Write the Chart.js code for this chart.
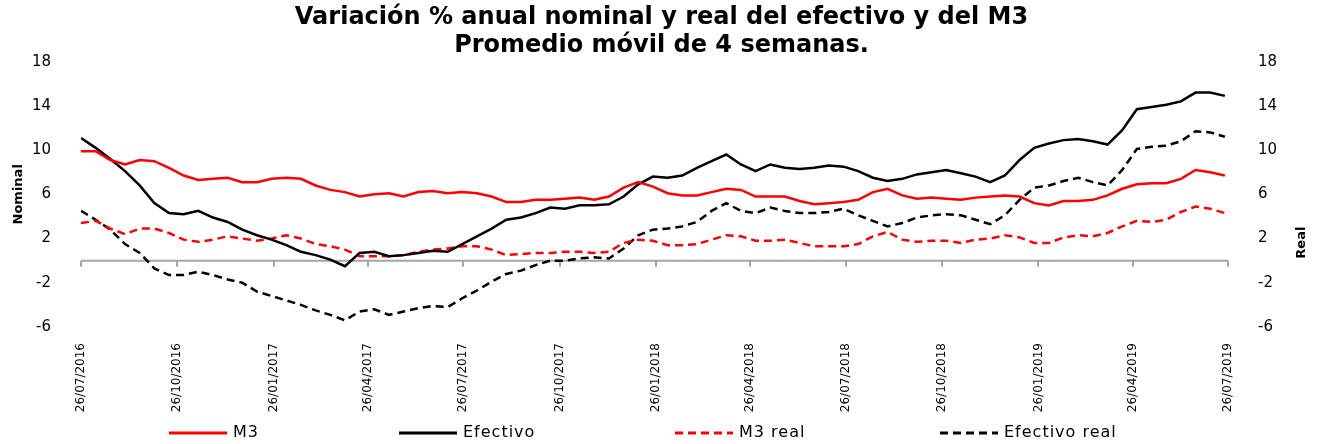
<!DOCTYPE html>
<html>
<head>
<meta charset="utf-8">
<script src="https://cdn.jsdelivr.net/npm/chart.js@4.4.0/dist/chart.umd.min.js"></script>
<style>
  html, body { margin: 0; padding: 0; background: #fff; }
  #wrap { width: 1323px; height: 444px; }
</style>
</head>
<body>
<div id="wrap"><canvas id="chart"></canvas></div>
<script>
"use strict";

// días desde el 26/07/2016 (una lectura cada dos semanas)
const days = [0, 14, 28, 42, 56, 70, 84, 98, 112, 126, 140, 154, 168, 182,
  196, 210, 224, 238, 252, 266, 280, 294, 308, 322, 336, 350, 364,
  378, 392, 406, 420, 434, 448, 462, 476, 490, 504, 518, 532, 546,
  560, 574, 588, 602, 616, 630, 644, 658, 672, 686, 700, 714, 728, 742,
  756, 770, 784, 798, 812, 826, 840, 854, 868, 882, 896, 910, 924,
  938, 952, 966, 980, 994, 1008, 1022, 1036, 1050, 1064, 1078, 1092];

const m3 = [9.9, 9.9, 9.1, 8.7, 9.1, 9.0, 8.4, 7.7, 7.3, 7.4, 7.5, 7.1, 7.1, 7.4,
  7.5, 7.4, 6.8, 6.4, 6.2, 5.8, 6.0, 6.1, 5.8, 6.2, 6.3, 6.1, 6.2,
  6.1, 5.8, 5.3, 5.3, 5.5, 5.5, 5.6, 5.7, 5.5, 5.8, 6.6, 7.1, 6.7,
  6.1, 5.9, 5.9, 6.2, 6.5, 6.4, 5.8, 5.8, 5.8, 5.4, 5.1, 5.2, 5.3, 5.5,
  6.2, 6.5, 5.9, 5.6, 5.7, 5.6, 5.5, 5.7, 5.8, 5.9, 5.8, 5.2, 5.0,
  5.4, 5.4, 5.5, 5.9, 6.5, 6.9, 7.0, 7.0, 7.4, 8.2, 8.0, 7.7];

const efectivo = [11.1, 10.2, 9.2, 8.1, 6.8, 5.2, 4.3, 4.2, 4.5, 3.9, 3.5, 2.8, 2.3, 1.9,
  1.4, 0.8, 0.5, 0.1, -0.5, 0.7, 0.8, 0.4, 0.5, 0.7, 0.9, 0.8, 1.5,
  2.2, 2.9, 3.7, 3.9, 4.3, 4.8, 4.7, 5.0, 5.0, 5.1, 5.8, 6.9, 7.6,
  7.5, 7.7, 8.4, 9.0, 9.6, 8.7, 8.1, 8.7, 8.4, 8.3, 8.4, 8.6, 8.5, 8.1,
  7.5, 7.2, 7.4, 7.8, 8.0, 8.2, 7.9, 7.6, 7.1, 7.7, 9.1, 10.2, 10.6,
  10.9, 11.0, 10.8, 10.5, 11.8, 13.7, 13.9, 14.1, 14.4, 15.2, 15.2, 14.9];

const m3Real = [3.4, 3.6, 2.9, 2.4, 2.9, 2.9, 2.5, 1.9, 1.7, 1.9, 2.2, 2.0, 1.8, 2.0,
  2.3, 2.0, 1.5, 1.3, 1.0, 0.4, 0.4, 0.4, 0.5, 0.8, 1.0, 1.1, 1.3,
  1.3, 1.0, 0.5, 0.6, 0.7, 0.7, 0.8, 0.8, 0.7, 0.8, 1.6, 1.9, 1.8,
  1.4, 1.4, 1.5, 1.9, 2.3, 2.2, 1.8, 1.8, 1.9, 1.6, 1.3, 1.3, 1.3, 1.5,
  2.2, 2.6, 1.9, 1.7, 1.8, 1.8, 1.6, 1.9, 2.0, 2.3, 2.1, 1.6, 1.6,
  2.1, 2.3, 2.2, 2.5, 3.1, 3.6, 3.5, 3.7, 4.4, 4.9, 4.7, 4.3];

const efectivoReal = [4.5, 3.7, 2.8, 1.5, 0.7, -0.7, -1.3, -1.3, -1.0, -1.3, -1.7, -2.0, -2.8, -3.2,
  -3.6, -4.0, -4.5, -4.9, -5.4, -4.6, -4.4, -4.9, -4.6, -4.3, -4.1, -4.2, -3.4,
  -2.7, -1.9, -1.2, -0.9, -0.4, 0.0, 0.0, 0.2, 0.3, 0.2, 1.1, 2.3, 2.8,
  2.9, 3.1, 3.5, 4.5, 5.2, 4.5, 4.3, 4.8, 4.5, 4.3, 4.3, 4.4, 4.7, 4.1,
  3.6, 3.1, 3.4, 3.9, 4.1, 4.2, 4.1, 3.7, 3.3, 4.1, 5.5, 6.6, 6.8,
  7.2, 7.5, 7.1, 6.8, 8.2, 10.1, 10.3, 10.4, 10.8, 11.7, 11.6, 11.2];

// fechas trimestrales del eje x
const tickDays = [0, 92, 184, 274, 365, 457, 549, 639, 730, 822, 914, 1004, 1095];
const tickLabels = ['26/07/2016', '26/10/2016', '26/01/2017', '26/04/2017', '26/07/2017',
  '26/10/2017', '26/01/2018', '26/04/2018', '26/07/2018', '26/10/2018',
  '26/01/2019', '26/04/2019', '26/07/2019'];

const FONT = "'DejaVu Sans', sans-serif";
const legendX = [169, 399, 675, 940];

function points(values) {
  return days.map((d, i) => ({ x: d, y: values[i] }));
}

// línea del cero con sus marcas, título "Real" y leyenda inferior
const extras = {
  id: 'extras',
  beforeDatasetsDraw(chart) {
    const { ctx, chartArea, scales } = chart;
    const y0 = scales.y.getPixelForValue(0);
    ctx.save();
    ctx.strokeStyle = '#a6a6a6';
    ctx.lineWidth = 2;
    ctx.beginPath();
    ctx.moveTo(chartArea.left, y0);
    ctx.lineTo(chartArea.right, y0);
    tickDays.forEach(d => {
      const px = Math.round(scales.x.getPixelForValue(d));
      ctx.moveTo(px, y0);
      ctx.lineTo(px, y0 + 6);
    });
    ctx.stroke();
    ctx.restore();
  },
  afterDraw(chart) {
    const { ctx, scales } = chart;
    ctx.save();
    ctx.translate(1302, scales.y.getPixelForValue(0) - 18);
    ctx.rotate(-Math.PI / 2);
    ctx.font = 'bold 13px ' + FONT;
    ctx.fillStyle = '#000';
    ctx.textAlign = 'center';
    ctx.textBaseline = 'middle';
    ctx.fillText('Real', 0, 0);
    ctx.restore();

    ctx.save();
    ctx.font = '16px ' + FONT;
    ctx.letterSpacing = '1px';
    ctx.textBaseline = 'middle';
    ctx.fillStyle = '#000';
    chart.data.datasets.forEach((ds, i) => {
      const x = legendX[i];
      const y = 433;
      ctx.strokeStyle = ds.borderColor;
      ctx.lineWidth = ds.borderWidth + 0.5;
      ctx.setLineDash(ds.borderDash || []);
      ctx.beginPath();
      ctx.moveTo(x, y);
      ctx.lineTo(x + 58, y);
      ctx.stroke();
      ctx.fillText(ds.label, x + 64, y);
    });
    ctx.restore();
  }
};

const yTicks = { stepSize: 4, padding: 22, color: '#000', font: { family: FONT, size: 15 } };

new Chart(document.getElementById('chart'), {
  type: 'line',
  data: {
    datasets: [
      { label: 'M3', data: points(m3), borderColor: '#ff0000', backgroundColor: '#ff0000', borderWidth: 2.5 },
      { label: 'Efectivo', data: points(efectivo), borderColor: '#000000', backgroundColor: '#000000', borderWidth: 2.5 },
      { label: 'M3 real', data: points(m3Real), borderColor: '#ff0000', backgroundColor: '#ff0000', borderWidth: 2.5, borderDash: [8, 5] },
      { label: 'Efectivo real', data: points(efectivoReal), borderColor: '#000000', backgroundColor: '#000000', borderWidth: 2.5, borderDash: [8, 5] }
    ]
  },
  options: {
    responsive: true,
    maintainAspectRatio: false,
    animation: false,
    layout: { padding: 0 },
    elements: { point: { radius: 0 }, line: { tension: 0 } },
    scales: {
      x: {
        type: 'linear',
        min: 0,
        max: 1095,
        grid: { display: false },
        border: { display: false },
        afterBuildTicks: (scale) => { scale.ticks = tickDays.map(v => ({ value: v })); },
        ticks: {
          autoSkip: false,
          minRotation: 90,
          maxRotation: 90,
          padding: 8,
          color: '#000',
          font: { family: FONT, size: 12 },
          callback: (v) => tickLabels[tickDays.indexOf(v)]
        },
        afterFit: (s) => { s.height = 117; }
      },
      y: {
        position: 'left',
        min: -6,
        max: 18,
        grid: { display: false },
        border: { display: false },
        ticks: yTicks,
        title: { display: true, text: 'Nominal', color: '#000', font: { family: FONT, size: 13, weight: 'bold' }, padding: { top: 11, bottom: 0 } },
        afterFit: (s) => { s.width = 81; }
      },
      y2: {
        position: 'right',
        min: -6,
        max: 18,
        grid: { display: false },
        border: { display: false },
        ticks: yTicks,
        afterFit: (s) => { s.width = 95; }
      }
    },
    plugins: {
      title: {
        display: true,
        text: ['Variación % anual nominal y real del efectivo y del M3', 'Promedio móvil de 4 semanas.'],
        color: '#000',
        font: { family: FONT, size: 24, weight: 'bold', lineHeight: 1.19 },
        padding: { top: 3, bottom: 1.5 }
      },
      legend: { display: false },
      tooltip: { enabled: false }
    }
  },
  plugins: [extras]
});
</script>
</body>
</html>
